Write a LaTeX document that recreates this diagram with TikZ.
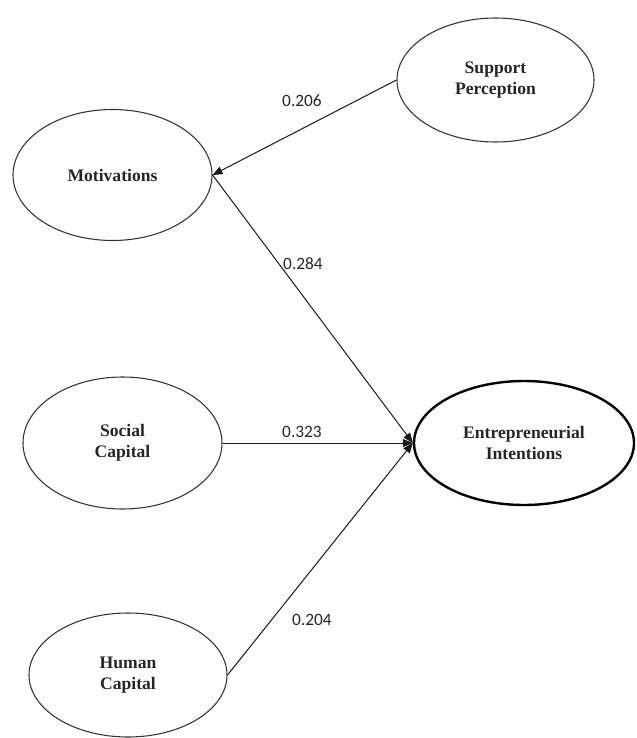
\documentclass[tikz,border=0pt]{standalone}
\usepackage{fontspec}
\setmainfont{Liberation Serif}
\newfontfamily\labelfont{Carlito}
\usetikzlibrary{shapes.geometric,arrows.meta}

\tikzset{
  construct/.style={ellipse, draw=black!80, line width=0.8pt, inner sep=0pt,
    align=center, font=\fontsize{13.2}{16}\selectfont\bfseries, text=black!85},
  target/.style={construct, draw=black, line width=1.8pt},
  path/.style={draw=black!90, line width=0.75pt,
    -{Triangle[length=7.5pt,width=6pt]}},
  coef/.style={font=\labelfont\fontsize{13}{15}\selectfont, text=black!85, inner sep=0pt}
}

\begin{document}
\begin{tikzpicture}[x=0.75pt,y=-0.75pt]
  \useasboundingbox (0,0) rectangle (636,738);

  % latent constructs
  \node[construct, minimum width=147.75pt, minimum height=93pt] (sup) at (495.5,80) {Support\\Perception};
  \node[construct, minimum width=149.25pt, minimum height=98.25pt] (mot) at (112.5,175) {Motivations};
  \node[construct, minimum width=149.25pt, minimum height=99pt] (soc) at (122.5,443) {Social\\Capital};
  \node[construct, minimum width=148.5pt, minimum height=93pt] (hum) at (128,675) {Human\\Capital};
  \node[target, minimum width=165pt, minimum height=93pt] (ei) at (524,443) {Entrepreneurial\\Intentions};

  % structural paths
  \draw[path] (sup.west) -- (mot.east);
  \draw[path] (mot.east) -- (ei.west);
  \draw[path] (soc.east) -- (ei.west);
  \draw[path] (hum.east) -- (ei.west);

  % path coefficients
  \node[coef] (c1) at (302,101) {0.206};
  \node[coef] (c2) at (303,264) {0.284};
  \node[coef] (c3) at (302,432) {0.323};
  \node[coef] (c4) at (312,620) {0.204};
\end{tikzpicture}
\end{document}
